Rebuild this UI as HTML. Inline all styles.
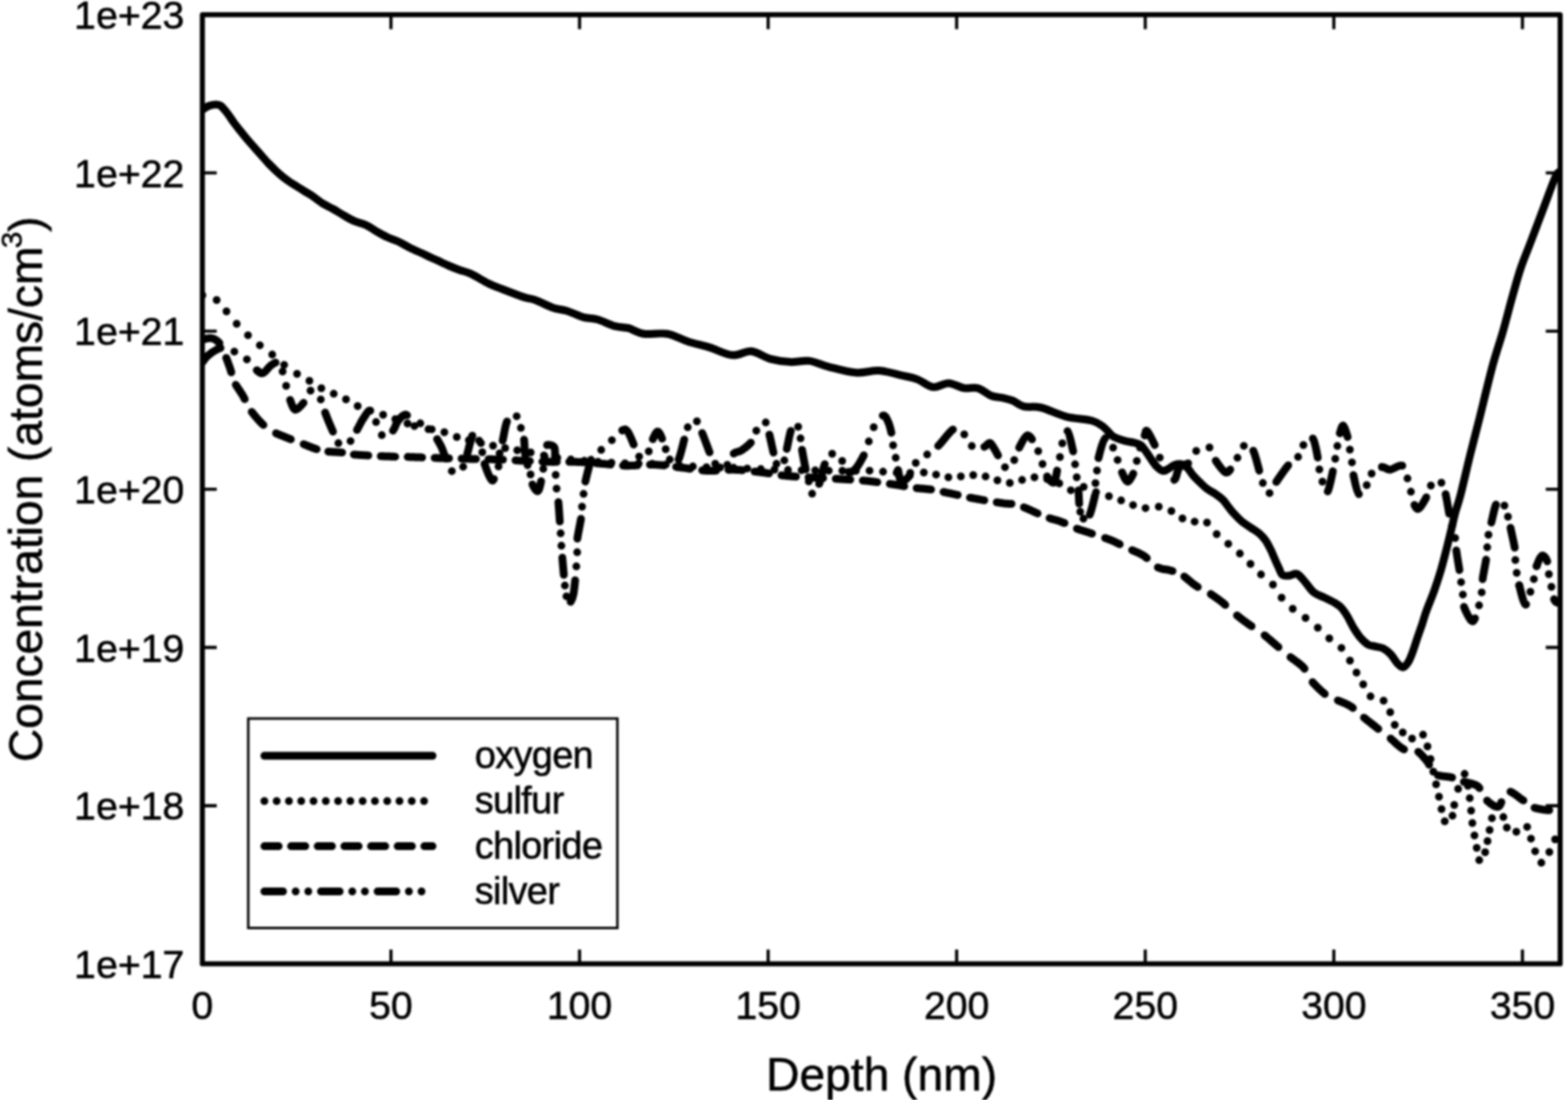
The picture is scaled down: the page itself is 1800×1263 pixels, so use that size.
<!DOCTYPE html><html><head><meta charset="utf-8"><style>html,body{margin:0;padding:0;background:#fff;width:1800px;height:1263px;overflow:hidden}svg{display:block}text{font-family:"Liberation Sans",sans-serif;fill:#000;stroke:#000;stroke-width:0.6px}</style></head><body>
<svg style="filter:blur(0.8px)" width="1800" height="1263" viewBox="0 0 1800 1263">
<rect width="1800" height="1263" fill="#fff"/>
<path d="M232.3,1106.7 v-16.5 M232.3,16.9 v16.5 M448.8,1106.7 v-16.5 M448.8,16.9 v16.5 M665.3,1106.7 v-16.5 M665.3,16.9 v16.5 M881.8,1106.7 v-16.5 M881.8,16.9 v16.5 M1098.2,1106.7 v-16.5 M1098.2,16.9 v16.5 M1314.7,1106.7 v-16.5 M1314.7,16.9 v16.5 M1531.2,1106.7 v-16.5 M1531.2,16.9 v16.5 M1747.7,1106.7 v-16.5 M1747.7,16.9 v16.5 M232.3,1106.7 h16.5 M1791.0,1106.7 h-16.5 M232.3,925.1 h16.5 M1791.0,925.1 h-16.5 M232.3,743.4 h16.5 M1791.0,743.4 h-16.5 M232.3,561.8 h16.5 M1791.0,561.8 h-16.5 M232.3,380.2 h16.5 M1791.0,380.2 h-16.5 M232.3,198.5 h16.5 M1791.0,198.5 h-16.5 M232.3,16.9 h16.5 M1791.0,16.9 h-16.5" stroke="#000" stroke-width="3.6" fill="none"/>
<defs><clipPath id="c"><rect x="232.3" y="16.9" width="1558.7" height="1089.8"/></clipPath></defs>
<g clip-path="url(#c)" fill="none" stroke="#000" stroke-linecap="round" stroke-linejoin="round">
<path d="M232.3,126.0 C233.6,125.2 237.3,122.5 240.0,121.5 C242.7,120.5 246.0,120.0 248.3,120.0 C250.6,120.0 251.5,120.0 253.6,121.6 C255.7,123.2 258.4,126.7 260.8,129.8 C263.2,132.9 265.6,136.8 268.0,140.1 C270.4,143.4 272.6,146.1 275.2,149.4 C277.8,152.7 280.8,156.4 283.5,159.7 C286.2,163.0 289.0,165.9 291.7,169.0 C294.4,172.1 297.1,175.1 299.9,178.2 C302.6,181.3 305.4,184.6 308.2,187.5 C310.9,190.4 313.7,193.1 316.4,195.7 C319.1,198.3 321.9,200.7 324.6,202.9 C327.4,205.1 330.1,207.2 332.9,209.1 C335.6,211.0 338.4,212.5 341.1,214.2 C343.8,215.9 346.6,217.7 349.3,219.4 C352.0,221.1 354.1,221.9 357.5,224.2 C360.9,226.5 365.8,230.7 370.0,233.3 C374.2,235.9 378.3,237.6 382.5,240.0 C386.7,242.4 390.8,245.1 395.0,247.5 C399.2,249.9 403.3,252.4 407.5,254.2 C411.7,256.0 415.8,256.4 420.0,258.3 C424.2,260.2 428.3,263.4 432.5,265.8 C436.7,268.2 440.8,270.6 445.0,272.5 C449.2,274.4 453.3,275.6 457.5,277.5 C461.7,279.4 465.8,282.1 470.0,284.2 C474.2,286.3 478.3,288.1 482.5,290.0 C486.7,291.9 491.7,294.3 495.0,295.8 C498.3,297.3 499.2,297.7 502.5,299.2 C505.8,300.7 510.8,303.2 515.0,305.0 C519.2,306.8 523.3,308.5 527.5,310.0 C531.7,311.5 534.4,311.6 540.0,314.2 C545.6,316.8 555.4,322.8 561.1,325.6 C566.8,328.4 567.7,328.5 574.4,331.1 C581.1,333.7 594.4,338.9 601.1,341.1 C607.8,343.3 608.9,342.4 614.4,344.4 C619.9,346.4 628.5,351.2 634.4,353.3 C640.3,355.4 644.1,354.9 650.0,356.7 C655.9,358.5 664.1,362.7 670.0,364.4 C675.9,366.1 679.7,365.0 685.6,366.7 C691.5,368.4 699.7,372.7 705.6,374.4 C711.5,376.1 715.6,375.2 721.1,376.7 C726.6,378.2 731.5,382.2 738.9,383.3 C746.3,384.4 757.1,381.8 765.6,383.3 C774.1,384.8 781.9,389.6 790.0,392.2 C798.1,394.8 805.9,396.3 814.4,398.9 C822.9,401.5 833.1,407.1 841.1,407.8 C849.1,408.5 855.0,402.6 862.2,403.3 C869.4,404.0 877.0,410.1 884.4,412.2 C891.8,414.2 899.3,415.2 906.7,415.6 C914.1,416.0 921.5,413.5 928.9,414.4 C936.3,415.3 942.2,418.9 951.1,421.1 C960.0,423.3 972.6,427.1 982.2,427.8 C991.8,428.6 1000.0,425.1 1008.9,425.6 C1017.8,426.2 1028.2,429.4 1035.6,431.1 C1043.0,432.8 1047.4,433.4 1053.3,435.6 C1059.2,437.8 1065.2,443.7 1071.1,444.4 C1077.0,445.1 1083.0,439.8 1088.9,440.0 C1094.8,440.2 1101.2,444.7 1106.7,445.6 C1112.2,446.5 1117.1,444.2 1122.2,445.6 C1127.3,447.0 1132.9,452.4 1137.5,454.2 C1142.1,456.0 1145.8,455.7 1150.0,456.7 C1154.2,457.7 1158.3,458.3 1162.5,460.0 C1166.7,461.7 1169.6,465.4 1175.0,466.7 C1180.4,468.0 1186.9,466.1 1195.0,468.0 C1203.1,469.9 1214.1,475.8 1223.8,478.3 C1233.5,480.8 1246.3,481.1 1253.4,483.0 C1260.5,484.9 1262.7,487.2 1266.5,490.0 C1270.3,492.8 1273.5,497.6 1276.0,499.7 C1278.5,501.8 1278.7,501.7 1281.4,502.8 C1284.1,503.9 1288.5,505.4 1292.1,506.4 C1295.7,507.3 1299.8,507.7 1302.8,508.5 C1305.8,509.3 1307.8,509.6 1309.9,511.3 C1312.0,513.0 1313.7,515.9 1315.6,518.5 C1317.5,521.1 1319.3,524.1 1321.3,527.0 C1323.3,529.9 1325.5,533.3 1327.7,535.6 C1330.0,537.9 1332.6,540.1 1334.8,540.6 C1337.0,541.1 1338.8,539.6 1341.0,538.5 C1343.2,537.4 1345.5,534.9 1348.0,534.0 C1350.5,533.1 1353.5,532.5 1356.0,533.0 C1358.5,533.5 1360.7,534.8 1363.0,537.0 C1365.3,539.2 1367.5,543.4 1370.0,546.3 C1372.5,549.2 1375.3,551.8 1377.9,554.3 C1380.5,556.8 1382.8,559.2 1385.8,561.4 C1388.8,563.6 1393.1,565.6 1396.1,567.7 C1399.1,569.8 1401.8,571.8 1404.0,574.0 C1406.2,576.2 1407.6,578.7 1409.6,581.2 C1411.6,583.7 1413.3,586.2 1415.9,589.1 C1418.5,592.0 1422.1,595.8 1425.4,598.6 C1428.7,601.4 1432.3,603.3 1435.7,605.7 C1439.1,608.1 1443.1,610.3 1446.0,612.8 C1448.9,615.3 1451.0,617.8 1453.1,620.8 C1455.2,623.8 1457.1,627.9 1458.7,631.1 C1460.3,634.3 1461.0,636.5 1462.6,640.0 C1464.1,643.5 1466.4,648.7 1468.0,652.0 C1469.6,655.3 1470.0,658.5 1472.0,660.0 C1474.0,661.5 1477.2,661.2 1480.0,661.0 C1482.8,660.8 1486.0,657.8 1489.0,659.0 C1492.0,660.2 1494.8,664.5 1498.0,668.0 C1501.2,671.5 1504.3,677.0 1508.0,680.0 C1511.7,683.0 1516.0,684.0 1520.0,686.0 C1524.0,688.0 1528.7,690.0 1532.0,692.0 C1535.3,694.0 1537.5,695.3 1540.0,698.0 C1542.5,700.7 1544.7,704.2 1547.0,708.0 C1549.3,711.8 1551.4,716.9 1553.9,720.9 C1556.4,724.9 1559.0,729.1 1561.8,732.3 C1564.6,735.5 1567.6,738.4 1570.5,740.1 C1573.4,741.8 1576.3,741.6 1579.2,742.3 C1582.1,743.0 1585.0,743.0 1587.9,744.5 C1590.8,746.0 1594.0,748.6 1596.6,751.4 C1599.2,754.1 1601.3,758.5 1603.6,761.0 C1605.9,763.5 1608.4,766.4 1610.6,766.2 C1612.8,766.1 1614.8,763.1 1616.7,760.1 C1618.6,757.1 1620.2,752.6 1621.9,748.0 C1623.6,743.4 1625.4,737.4 1627.1,732.3 C1628.8,727.2 1630.5,722.7 1632.3,717.5 C1634.0,712.3 1635.2,707.6 1637.6,701.0 C1640.0,694.4 1643.8,685.7 1646.5,678.0 C1649.2,670.3 1651.7,662.8 1654.0,655.0 C1656.3,647.2 1658.5,638.4 1660.4,631.0 C1662.3,623.6 1663.7,617.6 1665.4,610.6 C1667.1,603.6 1668.6,596.2 1670.5,589.0 C1672.4,581.8 1673.9,578.9 1676.8,567.6 C1679.7,556.3 1684.4,535.4 1688.0,521.0 C1691.6,506.6 1694.0,497.8 1698.2,481.0 C1702.4,464.2 1708.9,436.8 1713.4,420.0 C1718.0,403.2 1721.7,393.3 1725.5,380.0 C1729.3,366.7 1732.9,352.0 1736.3,340.0 C1739.7,328.0 1742.4,317.8 1745.7,308.0 C1749.0,298.2 1752.5,290.2 1756.0,281.0 C1759.5,271.8 1763.1,262.3 1766.6,253.0 C1770.1,243.7 1773.7,234.0 1777.0,225.3 C1780.3,216.6 1784.1,205.7 1786.6,201.0 C1789.1,196.3 1791.1,197.7 1792.0,197.0" stroke-width="9.0"/>
<path d="M232.3,339.0h0M248.7,344.5h0M260.0,357.5h0M271.7,371.7h0M284.7,384.9h0M298.3,396.4h0M312.5,407.1h0M326.2,418.9h0M341.0,429.3h0M355.2,437.2h0M368.9,445.7h0M383.1,452.1h0M397.2,458.5h0M410.6,466.2h0M425.1,471.5h0M439.8,476.3h0M453.8,481.3h0M467.8,486.2h0M482.5,486.1h0M495.6,492.9h0M510.1,496.2h0M524.4,501.8h0M538.2,505.4h0M552.1,508.7h0M566.0,511.8h0M579.9,514.5h0M593.8,517.0h0M609.2,519.5h0M624.4,522.9h0M639.8,525.6h0M655.3,527.6h0M670.8,529.1h0M686.4,530.3h0M701.9,531.2h0M717.5,531.9h0M733.1,532.2h0M748.7,532.5h0M764.3,533.4h0M779.9,534.5h0M795.4,535.6h0M811.0,536.5h0M826.6,536.8h0M842.2,537.1h0M857.8,537.9h0M873.4,538.6h0M889.0,539.2h0M904.6,539.6h0M920.2,539.9h0M935.8,540.1h0M951.4,540.4h0M967.0,540.5h0M982.6,540.5h0M998.2,540.4h0M1013.7,541.6h0M1029.3,542.7h0M1044.9,542.9h0M1060.5,542.5h0M1074.6,544.9h0M1088.7,548.0h0M1103.0,547.0h0M1117.2,545.5h0M1131.4,547.1h0M1145.0,551.5h0M1159.2,554.5h0M1173.3,551.1h0M1187.5,548.0h0M1202.1,550.0h0M1216.0,555.0h0M1229.3,562.9h0M1244.0,559.0h0M1258.2,565.1h0M1273.0,569.8h0M1287.0,574.6h0M1300.7,579.9h0M1315.0,583.4h0M1330.2,581.7h0M1344.7,586.7h0M1357.4,595.3h0M1371.4,598.9h0M1385.6,600.0h0M1396.7,613.2h0M1410.0,624.4h0M1423.3,635.6h0M1435.5,647.5h0M1447.6,659.6h0M1461.3,671.3h0M1471.2,686.3h0M1484.0,699.0h0M1498.7,709.5h0M1512.8,720.7h0M1526.0,733.0h0M1539.9,743.9h0M1549.7,758.5h0M1557.2,772.2h0M1564.9,785.8h0M1573.3,799.6h0M1588.3,804.5h0M1595.9,817.8h0M1601.1,832.2h0M1610.3,841.0h0M1621.0,848.0h0M1633.6,843.6h0M1638.7,857.0h0M1642.2,871.5h0M1645.4,886.0h0M1648.6,900.5h0M1651.9,914.7h0M1654.8,929.0h0M1658.5,943.0h0M1667.4,936.6h0M1669.4,924.3h0M1673.9,905.7h0M1681.3,888.6h0M1685.1,902.2h0M1687.2,916.4h0M1688.8,930.7h0M1690.2,945.0h0M1692.6,959.3h0M1695.2,973.5h0M1698.1,987.6h0M1704.9,978.5h0M1707.6,965.8h0M1710.0,953.0h0M1712.7,939.4h0M1725.8,938.1h0M1729.8,950.2h0M1740.7,955.0h0M1753.1,949.4h0M1757.5,962.9h0M1762.3,977.4h0M1769.4,990.6h0M1778.6,978.2h0M1785.2,963.8h0" stroke-width="9.0"/>
<path d="M232.3,390.0 232.5,390.0 232.7,389.9 232.9,389.9 233.2,389.8 233.5,389.7 233.8,389.7 234.1,389.6 234.4,389.5 234.8,389.4 235.1,389.3 235.5,389.2 235.9,389.1 236.3,389.0 236.7,388.9 237.1,388.8 237.5,388.7 237.9,388.6 238.3,388.5 238.7,388.5 239.2,388.4 239.6,388.3 240.0,388.3 240.4,388.2 240.8,388.2 241.2,388.2 241.6,388.2 242.0,388.2 242.3,388.2 242.7,388.2 243.0,388.3 243.3,388.4 243.7,388.5 244.0,388.6 244.3,388.7 244.6,388.8 245.0,388.9 245.3,389.0 245.6,389.2 246.0,389.3 246.3,389.5 246.6,389.7 246.9,389.8 247.2,390.0 247.5,390.2 247.9,390.4 248.2,390.6 248.5,390.8 248.8,391.1 249.1,391.3 249.4,391.5 249.6,391.7 249.9,392.0 250.2,392.2 250.5,392.5 250.8,392.7 251.0,393.0 251.3,393.2 251.5,393.5 251.8,393.7 251.9,393.9M259.7,410.9 259.8,411.0 260.1,411.8 260.3,412.5 260.6,413.3 260.9,414.0 261.2,414.8 261.5,415.5 261.7,416.3 262.0,417.1 262.3,417.8 262.5,418.5 262.8,419.2 263.1,420.0 263.3,420.7 263.5,421.3 263.8,422.0 264.0,422.6 264.2,423.2 264.4,423.8 264.6,424.4 264.8,424.9 264.9,425.5 265.1,426.0 265.2,426.4 265.3,426.9 265.4,427.3 265.5,427.6M270.7,441.8 270.9,442.1 271.3,442.8 271.7,443.4 272.1,444.0 272.5,444.6 273.0,445.3 273.4,445.9 273.8,446.6 274.2,447.2 274.7,447.8 275.1,448.5 275.5,449.1 275.9,449.7 276.3,450.4 276.7,451.0 277.1,451.6 277.5,452.2 277.9,452.8 278.2,453.3 278.6,453.9 278.9,454.5 279.2,455.0 279.5,455.5 279.8,456.0 280.0,456.5 280.3,457.0 280.5,457.5 280.7,458.0 280.9,458.3M289.0,472.9 289.3,473.3 289.8,473.9 290.3,474.5 290.7,475.1 291.2,475.7 291.7,476.3 292.2,476.9 292.7,477.5 293.2,478.1 293.7,478.7 294.2,479.3 294.7,479.9 295.2,480.4 295.7,481.0 296.2,481.6 296.7,482.1 297.2,482.7 297.7,483.2 298.2,483.7 298.6,484.2 299.1,484.7 299.6,485.2 300.0,485.6 300.4,486.0 300.9,486.5 301.3,486.9 301.7,487.3 302.1,487.6 302.4,487.9M316.9,497.5 317.4,497.7 318.1,498.0 318.8,498.3 319.5,498.6 320.2,498.9 320.9,499.2 321.6,499.5 322.3,499.8 323.1,500.1 323.8,500.4 324.5,500.6 325.2,500.9 325.9,501.2 326.6,501.5 327.2,501.7 327.9,502.0 328.5,502.2 329.2,502.5 329.8,502.7 330.4,502.9 330.9,503.2 331.5,503.4 332.0,503.6 332.5,503.8 333.0,504.0 333.4,504.2 333.8,504.3 333.9,504.4M348.6,510.0 349.2,510.3 349.9,510.5 350.6,510.8 351.3,511.1 352.0,511.4 352.7,511.7 353.5,512.0 354.2,512.3 354.9,512.5 355.6,512.8 356.3,513.1 357.0,513.4 357.7,513.6 358.3,513.9 359.0,514.1 359.6,514.4 360.3,514.6 360.9,514.8 361.4,515.0 362.0,515.2 362.5,515.4 363.0,515.6 363.5,515.7M376.9,518.5 377.1,518.6 377.7,518.6 378.4,518.7 379.1,518.7 379.8,518.7 380.5,518.8 381.2,518.8 381.9,518.9 382.6,518.9 383.3,518.9 384.0,519.0 384.7,519.0 385.4,519.1 386.1,519.1 386.8,519.1 387.5,519.2 388.2,519.2 388.9,519.3 389.5,519.3 390.1,519.3 390.8,519.4 391.4,519.4 391.9,519.5 392.5,519.5 392.7,519.6M406.2,521.9 406.3,521.9 406.8,522.0 407.4,522.0 407.9,522.1 408.5,522.1 409.1,522.1 409.6,522.2 410.2,522.2 410.8,522.3 411.4,522.3 412.1,522.4 412.7,522.4 413.3,522.4 414.0,522.5 414.6,522.5 415.3,522.6 416.0,522.6 416.7,522.6 417.4,522.7 418.1,522.7 418.9,522.7 419.6,522.8 420.4,522.8 421.2,522.9 422.0,522.9 422.8,523.0M437.1,523.7 437.9,523.7 439.0,523.8 440.1,523.8 441.3,523.9 442.4,523.9 443.5,524.0 444.6,524.0 445.6,524.1 446.7,524.1 447.7,524.1 448.7,524.2 449.7,524.2 450.7,524.3 451.6,524.3 452.5,524.3 453.4,524.4 453.7,524.4M468.0,524.6 468.6,524.6 469.3,524.6 470.1,524.7 470.9,524.7 471.7,524.7 472.6,524.7 473.5,524.8 474.5,524.8 475.5,524.8 476.5,524.9 477.6,524.9 478.7,524.9 479.8,525.0 481.0,525.0 482.1,525.1 483.3,525.1 484.5,525.2 484.6,525.2M498.9,525.7 499.4,525.8 500.7,525.8 501.8,525.8 503.0,525.9 504.2,525.9 505.3,526.0 506.4,526.0 507.5,526.0 508.6,526.1 509.6,526.1 510.7,526.1 511.7,526.2 512.7,526.2 513.8,526.2 514.8,526.3 515.5,526.3M529.9,526.6 530.8,526.7 531.8,526.7 532.8,526.7 533.8,526.7 534.9,526.8 535.9,526.8 537.0,526.8 538.1,526.8 539.2,526.8 540.2,526.9 541.3,526.9 542.4,526.9 543.6,526.9 544.7,527.0 545.8,527.0 546.4,527.0M560.8,527.2 561.7,527.3 562.8,527.3 563.9,527.3 565.0,527.3 566.0,527.4 567.1,527.4 568.2,527.4 569.3,527.5 570.3,527.5 571.3,527.5 572.4,527.6 573.4,527.6 574.4,527.7 575.4,527.7 576.4,527.8 577.3,527.8 577.4,527.8M591.7,528.6 592.6,528.6 593.6,528.7 594.5,528.8 595.5,528.8 596.4,528.9 597.4,528.9 598.4,529.0 599.4,529.0 600.4,529.0 601.4,529.1 602.4,529.1 603.4,529.2 604.4,529.2 605.4,529.3 606.4,529.3 607.5,529.4 608.3,529.4M622.6,530.1 622.8,530.1 623.9,530.1 624.9,530.2 625.9,530.2 626.9,530.2 628.0,530.3 629.0,530.3 630.0,530.3 631.0,530.3 632.0,530.3 633.1,530.3 634.1,530.3 635.1,530.4 636.1,530.3 637.1,530.3 638.2,530.3 639.2,530.3M653.5,530.2 654.5,530.2 655.5,530.2 656.5,530.2 657.5,530.2 658.6,530.2 659.6,530.3 660.6,530.3 661.6,530.3 662.6,530.4 663.7,530.4 664.7,530.5 665.7,530.5 666.7,530.6 667.8,530.6 668.8,530.7 669.8,530.8 670.1,530.8M684.4,531.9 685.1,531.9 686.1,532.0 687.1,532.1 688.1,532.2 689.1,532.2 690.0,532.3 691.0,532.4 691.9,532.5 692.9,532.6 693.8,532.6 694.7,532.7 695.6,532.8 696.5,532.9 697.4,533.0 698.3,533.1 699.2,533.2 700.0,533.3 700.9,533.4 700.9,533.4M715.2,534.6 716.0,534.6 717.0,534.7 718.0,534.7 719.0,534.7 720.0,534.7 721.0,534.7 722.1,534.7 723.1,534.6 724.2,534.6 725.2,534.6 726.3,534.5 727.4,534.4 728.5,534.4 729.6,534.3 730.7,534.2 731.8,534.2 731.8,534.2M746.1,533.5 746.3,533.5 747.4,533.4 748.5,533.5 749.6,533.5 750.7,533.5 751.8,533.5 752.9,533.6 754.0,533.7 755.1,533.7 756.2,533.8 757.3,533.9 758.4,534.0 759.5,534.1 760.6,534.2 761.7,534.3 762.3,534.4M776.2,536.1 777.0,536.2 778.1,536.4 779.1,536.5 780.2,536.6 781.2,536.8 782.3,536.9 783.3,537.0 784.3,537.1 785.3,537.2 786.4,537.4 787.4,537.5 788.3,537.6 789.3,537.8 790.3,537.9 791.3,538.1 792.2,538.2M806.1,540.0 806.6,540.1 807.6,540.2 808.6,540.3 809.5,540.3 810.5,540.4 811.5,540.5 812.5,540.5 813.5,540.5 814.5,540.5 815.5,540.6 816.5,540.5 817.5,540.5 818.5,540.5 819.5,540.5 820.5,540.4 821.5,540.4 822.2,540.3M836.2,539.4 836.8,539.4 837.8,539.3 838.8,539.3 839.9,539.3 840.9,539.3 841.9,539.3 842.9,539.3 843.9,539.3 844.9,539.4 845.9,539.4 846.9,539.5 847.9,539.5 848.9,539.6 849.9,539.7 850.9,539.7 851.9,539.8 852.3,539.9M866.2,541.4 867.0,541.5 868.1,541.6 869.1,541.7 870.1,541.8 871.2,542.0 872.2,542.1 873.3,542.2 874.4,542.3 875.4,542.5 876.4,542.6 877.4,542.7 878.4,542.9 879.4,543.0 880.4,543.2 881.4,543.3 882.3,543.5 882.8,543.5M897.1,545.7 897.2,545.7 898.4,545.9 899.7,546.0 901.0,546.1 902.4,546.3 903.8,546.4 905.2,546.6 906.7,546.7 908.3,546.8 909.9,547.0 911.6,547.1 913.4,547.2 913.8,547.2M928.2,548.1 929.3,548.2 931.4,548.3 933.6,548.4 935.7,548.5 937.8,548.6 939.9,548.7 942.1,548.8 944.2,548.9 944.9,549.0M959.4,549.7 959.6,549.7 961.3,549.8 962.9,549.9 964.4,550.0 965.9,550.1 967.2,550.2 968.6,550.3 969.9,550.3 971.1,550.4 972.3,550.5 973.5,550.5 974.6,550.6 975.6,550.7 976.1,550.7M990.5,551.7 990.6,551.7 991.5,551.8 992.5,551.9 993.5,552.0 994.5,552.1 995.6,552.2 996.7,552.3 997.8,552.4 998.9,552.6 1000.0,552.7 1001.2,552.8 1002.4,553.0 1003.5,553.1 1004.7,553.3 1005.9,553.4 1007.1,553.6 1007.1,553.6M1021.5,555.6 1022.1,555.7 1023.1,555.8 1024.1,556.0 1025.2,556.1 1026.1,556.3 1027.1,556.4 1028.0,556.6 1028.9,556.7 1029.8,556.8 1030.6,557.0 1031.4,557.1 1032.2,557.2 1032.9,557.3 1033.6,557.5 1034.3,557.6 1035.0,557.7 1035.6,557.8 1036.3,557.9 1036.9,558.1 1037.5,558.2 1038.0,558.3M1052.3,560.5 1052.6,560.5 1053.3,560.6 1054.0,560.6 1054.6,560.7 1055.3,560.8 1056.0,560.8 1056.7,560.9 1057.3,560.9 1058.0,561.0 1058.7,561.0 1059.4,561.1 1060.1,561.1 1060.7,561.2 1061.4,561.3 1062.1,561.3 1062.7,561.4 1063.4,561.5 1064.1,561.5 1064.7,561.6 1065.4,561.7 1066.0,561.7 1066.7,561.8 1067.4,561.9 1068.0,562.0 1068.6,562.1 1068.9,562.1M1083.1,564.8 1083.6,565.0 1084.3,565.1 1085.1,565.3 1085.9,565.4 1086.7,565.6 1087.5,565.8 1088.4,566.0 1089.3,566.1 1090.2,566.3 1091.1,566.5 1092.1,566.7 1093.1,567.0 1094.0,567.2 1095.0,567.4 1096.1,567.6 1097.1,567.8 1098.1,568.1 1099.2,568.3 1099.4,568.3M1113.5,571.4 1114.5,571.6 1115.6,571.8 1116.7,572.0 1117.8,572.2 1118.9,572.4 1120.0,572.6 1121.1,572.8 1122.2,573.0 1123.4,573.2 1124.6,573.4 1125.7,573.6 1126.9,573.9 1128.1,574.1 1129.3,574.3 1129.9,574.4M1144.2,576.7 1144.3,576.7 1145.4,576.9 1146.4,577.1 1147.4,577.2 1148.4,577.4 1149.3,577.5 1150.2,577.7 1151.1,577.8 1151.9,577.9 1152.7,578.0 1153.4,578.1 1154.1,578.2 1154.8,578.2 1155.4,578.3 1156.0,578.3 1156.6,578.3 1157.2,578.4 1157.7,578.4 1158.2,578.4 1158.7,578.4 1159.2,578.4 1159.7,578.4 1160.1,578.4 1160.6,578.4 1161.1,578.5 1161.2,578.5M1175.4,582.5 1175.5,582.5 1176.6,583.0 1177.7,583.4 1178.8,583.9 1179.9,584.4 1181.0,584.9 1182.2,585.4 1183.3,585.9 1184.5,586.4 1185.6,587.0 1186.7,587.5 1187.9,588.0 1189.0,588.5 1190.1,589.0 1191.1,589.5M1204.9,595.0 1205.1,595.1 1205.7,595.3 1206.3,595.5 1206.9,595.7 1207.5,595.8 1208.1,596.0 1208.6,596.1 1209.2,596.3 1209.7,596.4 1210.3,596.6 1210.8,596.7 1211.3,596.9 1211.8,597.0 1212.4,597.2 1212.9,597.3 1213.4,597.4 1213.9,597.6 1214.5,597.8 1215.0,597.9 1215.5,598.1 1216.1,598.3 1216.6,598.5 1217.2,598.7 1217.8,598.9 1218.4,599.1 1219.0,599.4 1219.6,599.6 1220.2,599.9 1220.8,600.1 1221.4,600.4 1222.0,600.6M1236.3,607.0 1236.6,607.1 1237.1,607.3 1237.5,607.4 1238.0,607.6 1238.4,607.8 1238.9,607.9 1239.3,608.1 1239.7,608.2 1240.1,608.3 1240.5,608.5 1240.9,608.6 1241.3,608.7 1241.7,608.8 1242.1,609.0 1242.5,609.1 1242.9,609.2 1243.3,609.3 1243.7,609.5 1244.1,609.6 1244.6,609.7 1245.0,609.9 1245.4,610.0 1245.9,610.1 1246.3,610.3 1246.8,610.4 1247.3,610.6 1247.8,610.7 1248.4,610.9 1248.9,611.1 1249.5,611.3 1250.1,611.5 1250.7,611.7 1251.3,611.9 1251.9,612.1 1252.6,612.3 1253.3,612.6 1253.6,612.7M1268.6,617.7 1268.9,617.8 1269.4,618.0 1269.9,618.2 1270.4,618.3 1270.8,618.5 1271.2,618.6 1271.7,618.8 1272.1,618.9 1272.4,619.1 1272.8,619.2 1273.2,619.4 1273.5,619.5 1273.9,619.6 1274.2,619.7 1274.5,619.9 1274.9,620.0 1275.2,620.1 1275.5,620.3 1275.8,620.4 1276.1,620.5 1276.5,620.6 1276.8,620.8 1277.1,620.9 1277.4,621.1 1277.8,621.2 1278.1,621.4 1278.5,621.5 1278.8,621.7 1279.2,621.8 1279.6,622.0 1280.0,622.2 1280.4,622.4 1280.8,622.6 1281.2,622.8 1281.6,623.0 1282.0,623.2 1282.4,623.4 1282.8,623.6 1283.2,623.8 1283.6,624.0 1284.0,624.2 1284.5,624.4 1284.9,624.6 1285.3,624.8 1285.4,624.9M1299.6,631.7 1300.3,632.0 1301.0,632.3 1301.7,632.6 1302.4,632.9 1303.1,633.2 1303.8,633.5 1304.5,633.8 1305.2,634.1 1305.9,634.4 1306.6,634.7 1307.3,635.0 1307.9,635.3 1308.6,635.7 1309.2,636.0 1309.9,636.3 1310.5,636.7 1311.1,637.0 1311.7,637.3 1312.3,637.7 1312.8,638.0 1313.3,638.3 1313.9,638.7 1314.4,639.1 1314.9,639.5 1315.4,639.9 1315.8,640.3 1316.3,640.7 1316.5,640.8M1329.2,651.5 1329.4,651.6 1329.6,651.7 1329.9,651.8 1330.2,651.9 1330.5,652.0 1330.8,652.1 1331.1,652.2 1331.3,652.3 1331.6,652.4 1331.9,652.5 1332.1,652.6 1332.4,652.6 1332.7,652.7 1332.9,652.8 1333.2,652.9 1333.5,653.0 1333.8,653.0 1334.0,653.1 1334.3,653.2 1334.6,653.3 1334.8,653.4 1335.1,653.4 1335.3,653.5 1335.6,653.5 1335.8,653.6 1336.0,653.6 1336.2,653.6 1336.5,653.7 1336.7,653.7 1336.9,653.7 1337.1,653.7 1337.3,653.7 1337.6,653.8 1337.8,653.8 1338.0,653.8 1338.2,653.8 1338.5,653.8 1338.7,653.9 1338.9,653.9 1339.2,653.9 1339.4,654.0 1339.7,654.0 1340.0,654.0 1340.3,654.1 1340.6,654.2 1340.9,654.2 1341.2,654.3 1341.5,654.4 1341.9,654.5 1342.3,654.6 1342.6,654.7 1343.0,654.8 1343.4,654.9 1343.8,655.0 1344.3,655.1 1344.7,655.3 1345.1,655.4 1345.6,655.5 1346.0,655.6M1359.5,661.9 1359.6,662.0 1360.2,662.5 1360.7,662.9 1361.3,663.4 1361.8,663.8 1362.4,664.3 1363.0,664.7 1363.5,665.2 1364.1,665.7 1364.7,666.2 1365.2,666.6 1365.8,667.1 1366.4,667.6 1366.9,668.1 1367.5,668.5 1368.0,669.0 1368.6,669.4 1369.1,669.9 1369.7,670.3 1370.2,670.7 1370.7,671.1 1371.3,671.5 1371.8,671.9 1372.3,672.2 1372.8,672.5 1373.3,672.8 1373.8,673.1 1374.3,673.4 1374.7,673.7 1375.0,673.9M1389.9,682.1 1390.0,682.2 1390.6,682.5 1391.1,682.9 1391.7,683.3 1392.2,683.6 1392.8,684.0 1393.4,684.4 1393.9,684.8 1394.5,685.2 1395.1,685.6 1395.6,686.0 1396.2,686.4 1396.8,686.8 1397.3,687.2 1397.9,687.6 1398.4,688.0 1399.0,688.4 1399.5,688.8 1400.1,689.2 1400.6,689.6 1401.1,690.0 1401.7,690.4 1402.2,690.8 1402.7,691.2 1403.2,691.6 1403.7,692.0 1404.2,692.4 1404.7,692.8 1405.1,693.2 1405.6,693.7 1406.1,694.1 1406.5,694.5 1406.6,694.6M1420.0,706.6 1420.4,706.9 1420.9,707.3 1421.5,707.8 1422.0,708.2 1422.6,708.6 1423.1,709.1 1423.7,709.5 1424.3,709.9 1424.8,710.4 1425.4,710.8 1425.9,711.2 1426.5,711.6 1427.1,712.1 1427.6,712.5 1428.2,712.9 1428.8,713.3 1429.3,713.7 1429.9,714.1 1430.4,714.5 1431.0,714.9 1431.5,715.3 1432.0,715.7 1432.6,716.1 1433.1,716.5 1433.6,716.9 1434.1,717.2 1434.7,717.6 1435.2,718.0 1435.7,718.3 1436.2,718.6 1436.7,719.0 1436.8,719.0M1451.7,729.4 1452.1,729.7 1452.7,730.2 1453.3,730.7 1453.8,731.2 1454.4,731.6 1455.0,732.1 1455.5,732.6 1456.1,733.1 1456.7,733.6 1457.2,734.1 1457.8,734.6 1458.4,735.0 1458.9,735.5 1459.5,736.0 1460.1,736.5 1460.6,737.0 1461.1,737.5 1461.7,737.9 1462.2,738.4 1462.8,738.8 1463.3,739.3 1463.8,739.7 1464.3,740.2 1464.8,740.6 1465.3,741.0 1465.8,741.4 1466.2,741.8 1466.7,742.2 1467.1,742.6 1467.6,743.0M1481.4,754.6 1481.5,754.6 1482.1,755.1 1482.7,755.5 1483.4,756.0 1484.0,756.5 1484.7,756.9 1485.3,757.4 1486.0,757.9 1486.7,758.4 1487.3,758.8 1488.0,759.3 1488.6,759.8 1489.3,760.3 1489.9,760.8 1490.6,761.2 1491.2,761.7 1491.8,762.2 1492.4,762.7 1493.0,763.2 1493.5,763.6 1494.1,764.1 1494.6,764.6 1495.1,765.1 1495.6,765.5 1496.0,766.0 1496.4,766.5 1496.8,766.9 1497.2,767.4 1497.5,767.9 1497.5,767.9M1506.8,783.3 1507.3,783.8 1507.8,784.4 1508.3,785.0 1508.9,785.5 1509.5,786.1 1510.0,786.7 1510.6,787.3 1511.2,787.9 1511.8,788.5 1512.3,789.0 1512.9,789.6 1513.5,790.2 1514.1,790.7 1514.7,791.3 1515.2,791.8 1515.8,792.4 1516.4,792.9 1516.9,793.4 1517.5,793.9 1518.0,794.3 1518.5,794.8 1519.0,795.2 1519.5,795.6 1520.0,796.0 1520.5,796.4 1520.8,796.7M1535.8,804.2 1536.4,804.5 1537.0,804.7 1537.6,805.0 1538.2,805.2 1538.8,805.5 1539.5,805.7 1540.1,806.0 1540.7,806.2 1541.4,806.5 1542.0,806.8 1542.7,807.0 1543.3,807.3 1543.9,807.6 1544.5,807.8 1545.2,808.1 1545.8,808.4 1546.4,808.7 1547.0,809.0 1547.5,809.3 1548.1,809.6 1548.6,809.9 1549.2,810.2 1549.7,810.5 1550.2,810.8 1550.7,811.1 1551.2,811.4 1551.6,811.8 1552.1,812.1 1552.5,812.4 1552.9,812.7 1553.1,812.9M1565.8,824.0 1566.0,824.1 1566.6,824.6 1567.3,825.1 1567.9,825.7 1568.6,826.2 1569.2,826.7 1569.9,827.3 1570.6,827.8 1571.3,828.3 1572.0,828.9 1572.6,829.4 1573.3,829.9 1574.0,830.5 1574.7,831.0 1575.3,831.5 1576.0,832.0 1576.6,832.5 1577.3,833.0 1577.9,833.5 1578.5,834.0 1579.1,834.5 1579.7,834.9 1580.2,835.4 1580.8,835.8 1581.3,836.2 1581.8,836.6 1582.2,836.9M1596.4,847.9 1597.0,848.5 1597.6,849.0 1598.2,849.6 1598.8,850.1 1599.5,850.7 1600.1,851.3 1600.7,851.9 1601.3,852.5 1602.0,853.0 1602.6,853.6 1603.2,854.2 1603.9,854.8 1604.5,855.3 1605.1,855.8 1605.8,856.4 1606.4,856.9 1607.0,857.4 1607.6,857.8 1608.2,858.3 1608.8,858.7 1609.3,859.0 1609.9,859.4 1610.5,859.7 1611.0,860.0 1611.5,860.2 1611.8,860.4M1628.1,863.2 1628.3,863.3 1628.8,863.8 1629.3,864.2 1629.8,864.7 1630.3,865.1 1630.8,865.6 1631.3,866.1 1631.7,866.6 1632.2,867.1 1632.7,867.6 1633.2,868.1 1633.6,868.7 1634.1,869.2 1634.6,869.7 1635.0,870.3 1635.5,870.8 1635.9,871.3 1636.3,871.8 1636.8,872.4 1637.2,872.9 1637.6,873.4 1638.0,873.9 1638.3,874.3 1638.7,874.8 1639.0,875.3 1639.4,875.7 1639.7,876.2 1640.0,876.7 1640.2,877.2 1640.5,877.7 1640.6,877.9M1650.7,890.2 1650.7,890.2 1651.4,890.4 1652.1,890.5 1652.8,890.7 1653.5,890.8 1654.2,890.9 1654.9,891.0 1655.7,891.1 1656.4,891.2 1657.2,891.3 1657.9,891.4 1658.7,891.5 1659.4,891.6 1660.1,891.6 1660.8,891.7 1661.5,891.8 1662.2,891.9 1662.9,892.0 1663.5,892.0 1664.2,892.1 1664.8,892.2 1665.3,892.4 1665.9,892.5 1666.4,892.6 1666.9,892.7 1667.0,892.8M1680.5,897.7 1680.5,897.7 1681.2,897.8 1681.9,898.0 1682.6,898.1 1683.3,898.3 1684.1,898.4 1684.8,898.6 1685.6,898.8 1686.3,898.9 1687.1,899.1 1687.8,899.3 1688.6,899.5 1689.3,899.7 1690.0,899.9 1690.7,900.1 1691.4,900.3 1692.1,900.5 1692.7,900.8 1693.4,901.0 1694.0,901.3 1694.6,901.6 1695.1,901.9 1695.6,902.2 1696.1,902.5 1696.5,902.8 1697.0,903.2 1697.3,903.6 1697.7,904.0 1698.0,904.4 1698.3,904.8 1698.4,904.9M1707.1,919.3 1707.3,919.5 1707.8,919.9 1708.4,920.4 1709.0,920.9 1709.5,921.4 1710.1,921.9 1710.7,922.3 1711.3,922.8 1711.9,923.2 1712.5,923.6 1713.1,924.0 1713.7,924.4 1714.2,924.8 1714.8,925.1 1715.4,925.4 1716.0,925.6 1716.5,925.9 1717.1,926.1 1717.6,926.2 1718.1,926.3 1718.6,926.3 1719.1,926.4 1719.6,926.3 1720.0,926.2 1720.4,926.0 1720.8,925.8 1721.2,925.4 1721.6,925.0 1721.9,924.5 1722.2,924.0 1722.5,923.4 1722.8,922.7 1723.1,922.0 1723.4,921.3 1723.5,921.0M1734.0,909.0 1734.2,909.1 1734.8,909.4 1735.4,909.7 1736.1,910.1 1736.7,910.5 1737.4,910.9 1738.0,911.3 1738.7,911.7 1739.4,912.2 1740.0,912.7 1740.7,913.2 1741.3,913.6 1742.0,914.1 1742.6,914.6 1743.2,915.1 1743.8,915.5 1744.4,916.0 1745.0,916.4 1745.6,916.9 1746.1,917.3 1746.6,917.6 1747.1,918.0 1747.6,918.3 1748.0,918.6 1748.5,918.9 1748.8,919.1M1761.6,927.5 1762.2,927.7 1762.9,927.9 1763.6,928.1 1764.3,928.2 1765.0,928.4 1765.7,928.5 1766.4,928.7 1767.2,928.8 1767.9,929.0 1768.6,929.1 1769.3,929.2 1770.1,929.4 1770.8,929.5 1771.5,929.6 1772.2,929.7 1772.9,929.8 1773.6,929.9 1774.2,929.9 1774.9,930.0 1775.5,930.1 1776.1,930.1 1776.7,930.2 1777.3,930.2 1777.9,930.2 1778.4,930.2 1778.5,930.2" stroke-width="9.0"/>
<g stroke-width="9.0">
<path d="M232.3,415.9 C233.3,414.7 235.6,411.1 238.3,408.7 C241.0,406.3 245.3,403.1 248.6,401.5 C251.9,399.9 254.4,398.5 257.9,398.9 C261.4,399.3 265.4,401.7 269.7,404.0 C274.0,406.3 279.4,409.3 283.6,412.8 C287.8,416.3 291.9,422.6 295.0,425.2" stroke-dasharray="26.9 17.0 0 17.0 0 17.0"/>
<path d="M295.0,425.2 C298.1,427.8 299.5,429.2 302.1,428.3 C304.7,427.4 307.8,422.1 310.4,420.0 C313.0,417.9 315.4,416.2 317.6,415.9 C319.8,415.6 322.6,415.4 323.8,418.0 C325.0,420.6 323.9,426.7 324.8,431.3 C325.7,435.9 328.0,441.2 329.4,445.8 C330.8,450.4 331.4,455.1 333.0,459.2" stroke-dasharray="26.9 17.0 0 17.0 0 17.0"/>
<path d="M333.0,459.2 C334.6,463.3 336.4,470.2 339.2,470.5 C341.9,470.8 346.5,464.9 349.5,461.2 C352.5,457.5 354.0,448.6 357.2,448.3 C360.4,448.0 365.9,455.0 368.6,459.2 C371.3,463.4 370.9,467.4 373.2,473.6" stroke-dasharray="25.6 16.2 0 16.2 0 16.2"/>
<path d="M373.2,473.6 C375.5,479.8 379.9,490.3 382.5,496.2 C385.1,502.1 385.7,507.3 388.9,509.1 C392.1,510.9 398.3,509.5 401.8,506.9 C405.3,504.3 407.2,498.1 409.8,493.6" stroke-dasharray="23.6 14.9 0 14.9 0 14.9"/>
<path d="M409.8,493.6 C412.4,489.2 414.7,483.9 417.3,480.2 C419.9,476.5 422.7,470.1 425.3,471.3 C427.9,472.5 430.4,482.2 432.9,487.3 C435.4,492.4 437.4,500.4 440.4,501.6 C443.4,502.8 448.4,497.4 451.1,494.4" stroke-dasharray="26.1 16.5 0 16.5 0 16.5"/>
<path d="M451.1,494.4 C453.8,491.4 454.3,486.8 456.4,483.8 C458.5,480.9 461.7,477.7 463.6,476.7 C465.5,475.7 466.9,476.0 468.0,477.6 C469.1,479.2 467.7,484.2 470.0,486.4 C472.3,488.6 477.5,489.6 481.8,490.9 C486.1,492.2 492.7,492.2 496.0,494.4 C499.3,496.6 499.9,500.9 501.8,504.2" stroke-dasharray="26.0 16.5 0 16.5 0 16.5"/>
<path d="M501.8,504.2 C503.7,507.5 505.5,510.4 507.1,514.0 C508.7,517.6 509.5,521.0 511.6,525.6 C513.7,530.2 516.4,539.8 519.6,541.6 C522.9,543.5 528.3,540.1 531.1,536.7 C533.9,533.3 534.4,527.5 536.4,521.1" stroke-dasharray="24.7 15.6 0 15.6 0 15.6"/>
<path d="M536.4,521.1 C538.4,514.7 541.0,500.8 543.3,498.3 C545.6,495.8 548.3,502.4 550.0,506.0 C551.7,509.6 552.7,515.2 553.7,519.7 C554.8,524.2 554.5,527.5 556.3,532.7" stroke-dasharray="21.7 13.7 0 13.7 0 13.7"/>
<path d="M556.3,532.7 C558.0,537.9 562.2,548.7 564.2,551.0 C566.2,553.3 567.0,549.8 568.5,546.7 C570.0,543.7 572.0,537.4 572.9,532.7 C573.8,528.1 573.0,523.2 573.7,518.8 C574.4,514.3 575.5,512.0 577.0,506.0" stroke-dasharray="24.0 15.2 0 15.2 0 15.2"/>
<path d="M577.0,506.0 C578.5,500.0 579.9,487.7 582.5,483.0 C585.1,478.3 590.3,476.3 592.9,477.8 C595.5,479.3 596.6,487.3 598.1,491.8 C599.6,496.3 600.9,500.3 601.6,504.8" stroke-dasharray="22.4 14.2 0 14.2 0 14.2"/>
<path d="M601.6,504.8 C602.3,509.3 601.9,514.3 602.5,518.8 C603.1,523.3 604.0,528.1 605.0,532.0 C606.0,535.9 607.6,538.3 608.6,542.3 C609.6,546.3 609.6,552.7 611.2,556.2" stroke-dasharray="18.1 11.5 0 11.5 0 11.5"/>
<path d="M611.2,556.2 C612.8,559.7 616.2,566.0 618.2,563.2 C620.2,560.5 622.3,545.7 623.4,539.7 C624.5,533.7 624.6,531.0 625.0,527.0 C625.4,523.0 625.5,518.7 626.0,516.0 C626.5,513.3 626.2,511.3 628.0,511.0" stroke-dasharray="22.5 14.2 0 14.2 0 14.2"/>
<path d="M628.0,511.0 C629.8,510.7 635.0,510.5 636.5,514.0 C638.0,517.5 636.7,526.1 637.0,532.0 C637.3,537.9 637.8,543.9 638.2,549.2 C638.6,554.5 638.7,559.2 639.2,563.8 C639.7,568.3 640.4,570.3 641.0,576.5" stroke-dasharray="25.0 15.8 0 15.8 0 15.8"/>
<path d="M641.0,576.5 C641.6,582.7 642.3,594.8 642.8,601.0 C643.2,607.2 643.4,609.3 643.7,613.9 C644.0,618.5 644.3,624.1 644.6,628.5 C644.9,632.9 645.0,634.2 645.5,640.3" stroke-dasharray="22.1 14.0 0 14.0 0 14.0"/>
<path d="M645.5,640.3 C646.0,646.4 647.1,658.7 647.7,664.9 C648.3,671.1 648.5,673.0 649.2,677.6 C649.9,682.2 650.9,690.0 651.9,692.2 C652.9,694.4 653.9,692.7 655.0,691.0" stroke-dasharray="19.7 12.5 0 12.5 0 12.5"/>
<path d="M655.0,691.0 C656.1,689.3 657.3,687.6 658.3,682.2 C659.3,676.8 660.4,664.7 661.0,658.5 C661.6,652.3 661.6,649.5 661.9,644.8 C662.2,640.1 662.6,634.7 662.8,630.3 C662.9,625.9 662.0,624.6 662.8,618.4" stroke-dasharray="25.4 16.1 0 16.1 0 16.1"/>
<path d="M662.8,618.4 C663.6,612.2 666.5,599.3 667.4,592.9 C668.3,586.5 667.8,584.8 668.3,580.2 C668.8,575.7 669.5,570.2 670.1,565.6 C670.7,561.0 670.9,558.1 672.0,552.9" stroke-dasharray="22.8 14.5 0 14.5 0 14.5"/>
<path d="M672.0,552.9 C673.1,547.7 675.4,538.8 676.5,534.6 C677.6,530.4 676.7,530.2 678.7,527.5 C680.7,524.8 684.5,521.8 688.4,518.2 C692.3,514.6 697.7,509.8 702.0,505.8 C706.3,501.8 711.3,495.8 714.4,494.1" stroke-dasharray="26.0 16.4 0 16.4 0 16.4"/>
<path d="M714.4,494.1 C717.5,492.4 718.2,492.3 720.7,495.7 C723.2,499.1 726.7,509.2 729.2,514.3 C731.7,519.3 733.2,525.4 735.8,526.0 C738.4,526.6 742.5,521.8 744.8,518.2 C747.1,514.6 747.6,507.9 749.4,504.2" stroke-dasharray="23.8 15.1 0 15.1 0 15.1"/>
<path d="M749.4,504.2 C751.2,500.4 753.4,494.7 755.6,495.7 C757.8,496.7 760.8,505.7 762.6,510.4 C764.4,515.1 764.9,520.4 766.5,523.7 C768.1,527.0 769.9,529.4 772.0,530.0 C774.1,530.6 776.7,532.0 779.0,527.5" stroke-dasharray="20.2 12.8 0 12.8 0 12.8"/>
<path d="M779.0,527.5 C781.3,523.0 784.2,508.8 786.0,502.7 C787.8,496.6 787.4,494.0 789.5,490.6 C791.6,487.2 795.6,481.3 798.4,482.4 C801.2,483.5 803.4,490.9 806.1,497.2" stroke-dasharray="23.5 14.9 0 14.9 0 14.9"/>
<path d="M806.1,497.2 C808.8,503.4 812.4,514.1 814.8,519.9 C817.2,525.7 817.4,529.5 820.5,532.0 C823.6,534.5 830.0,536.6 833.6,534.7 C837.2,532.8 839.4,523.6 842.3,520.7" stroke-dasharray="23.6 15.0 0 15.0 0 15.0"/>
<path d="M842.3,520.7 C845.2,517.8 847.7,519.5 851.0,517.3 C854.3,515.1 859.3,511.6 862.3,507.7 C865.3,503.8 866.0,497.5 868.8,493.7 C871.6,489.9 876.5,484.1 878.9,485.0 C881.3,485.9 881.6,492.9 883.2,499.0" stroke-dasharray="23.7 15.0 0 15.0 0 15.0"/>
<path d="M883.2,499.0 C884.8,505.1 886.8,515.6 888.4,521.6 C890.0,527.6 890.9,533.3 892.8,534.7 C894.7,536.1 898.1,533.1 899.8,529.9 C901.5,526.7 901.8,521.7 903.2,515.5" stroke-dasharray="21.1 13.4 0 13.4 0 13.4"/>
<path d="M903.2,515.5 C904.7,509.3 906.5,497.4 908.5,492.9 C910.5,488.4 913.7,486.8 915.4,488.5 C917.1,490.2 918.0,498.2 918.9,502.9 C919.8,507.5 919.8,510.7 920.7,516.4" stroke-dasharray="21.1 13.4 0 13.4 0 13.4"/>
<path d="M920.7,516.4 C921.7,522.1 923.4,531.5 924.6,537.3 C925.8,543.1 926.7,546.1 928.0,551.0 C929.3,555.9 930.4,566.1 932.4,566.9 C934.4,567.7 937.8,561.4 940.3,555.6" stroke-dasharray="22.9 14.5 0 14.5 0 14.5"/>
<path d="M940.3,555.6 C942.8,549.8 944.5,537.8 947.2,532.0 C950.0,526.2 953.2,520.7 956.8,520.7 C960.4,520.7 966.1,528.5 969.0,532.0 C971.9,535.5 971.9,540.8 974.2,541.7" stroke-dasharray="23.5 14.9 0 14.9 0 14.9"/>
<path d="M974.2,541.7 C976.5,542.6 979.5,541.4 982.9,537.3 C986.2,533.2 991.8,522.9 994.3,517.3 C996.8,511.7 996.7,508.4 998.2,503.8 C999.7,499.2 1000.9,494.2 1003.4,489.8 C1005.9,485.4 1010.7,478.1 1013.4,477.2" stroke-dasharray="27.2 17.2 0 17.2 0 17.2"/>
<path d="M1013.4,477.2 C1016.1,476.3 1017.8,480.4 1019.5,484.2 C1021.2,488.0 1022.9,494.9 1023.9,499.8 C1024.9,504.7 1024.8,509.1 1025.6,513.8 C1026.4,518.4 1027.8,523.4 1028.7,527.7 C1029.6,532.1 1029.8,535.7 1030.9,539.9" stroke-dasharray="23.1 14.6 0 14.6 0 14.6"/>
<path d="M1030.9,539.9 C1032.0,544.1 1032.7,552.4 1035.3,553.0 C1037.9,553.6 1043.7,547.1 1046.5,543.4 C1049.3,539.6 1048.8,534.2 1052.0,530.5 C1055.2,526.8 1061.3,524.1 1065.5,521.0 C1069.7,517.9 1071.9,516.8 1077.0,512.0" stroke-dasharray="25.7 16.3 0 16.3 0 16.3"/>
<path d="M1077.0,512.0 C1082.1,507.2 1090.8,493.9 1096.0,492.0 C1101.2,490.1 1104.8,496.8 1108.5,500.5 C1112.2,504.2 1114.4,512.4 1118.0,514.5 C1121.6,516.6 1126.8,513.9 1130.0,513.0" stroke-dasharray="25.3 16.0 0 16.0 0 16.0"/>
<path d="M1130.0,513.0 C1133.2,512.1 1134.2,507.0 1137.0,509.0 C1139.8,511.0 1143.8,520.2 1147.0,525.0 C1150.2,529.8 1153.0,537.7 1156.0,538.0 C1159.0,538.3 1162.7,531.0 1165.0,527.0 C1167.3,523.0 1167.7,518.5 1170.0,514.0" stroke-dasharray="25.0 15.8 0 15.8 0 15.8"/>
<path d="M1170.0,514.0 C1172.3,509.5 1176.2,501.0 1179.0,500.0 C1181.8,499.0 1184.7,504.5 1187.0,508.0 C1189.3,511.5 1191.2,516.5 1193.0,521.0 C1194.8,525.5 1196.0,530.7 1197.5,535.0 C1199.0,539.3 1199.9,543.8 1202.0,547.0" stroke-dasharray="24.4 15.4 0 15.4 0 15.4"/>
<path d="M1202.0,547.0 C1204.1,550.2 1208.0,555.5 1210.0,554.0 C1212.0,552.5 1212.8,543.1 1214.0,538.0 C1215.2,532.9 1216.1,528.4 1217.0,523.5 C1217.9,518.6 1218.2,513.4 1219.6,508.6 C1221.0,503.9 1223.5,493.7 1225.5,495.0" stroke-dasharray="25.3 16.0 0 16.0 0 16.0"/>
<path d="M1225.5,495.0 C1227.5,496.3 1230.1,510.4 1231.5,516.3 C1232.9,522.2 1233.1,525.9 1233.8,530.6 C1234.5,535.4 1234.9,539.4 1235.6,544.8 C1236.3,550.2 1237.4,556.9 1238.0,563.0" stroke-dasharray="24.0 15.2 0 15.2 0 15.2"/>
<path d="M1238.0,563.0 C1238.6,569.1 1238.5,576.3 1239.2,581.6 C1239.9,586.9 1240.7,592.6 1242.0,594.7 C1243.3,596.8 1245.5,594.6 1247.0,594.0 C1248.5,593.4 1249.2,596.0 1251.0,591.0" stroke-dasharray="15.1 9.5 0 9.5 0 9.5"/>
<path d="M1251.0,591.0 C1252.8,586.0 1256.9,570.3 1258.0,564.0 C1259.1,557.7 1257.3,557.1 1257.5,553.0 C1257.7,548.9 1258.8,544.0 1259.4,539.5 C1260.0,535.0 1259.4,532.1 1261.0,526.0" stroke-dasharray="22.9 14.5 0 14.5 0 14.5"/>
<path d="M1261.0,526.0 C1262.6,519.9 1266.0,504.6 1269.0,503.0 C1272.0,501.4 1276.5,511.7 1279.0,516.3 C1281.5,520.9 1282.2,526.2 1283.7,530.6 C1285.2,535.0 1286.1,538.7 1288.0,542.4" stroke-dasharray="24.0 15.2 0 15.2 0 15.2"/>
<path d="M1288.0,542.4 C1289.9,546.1 1292.5,553.6 1295.0,553.0 C1297.5,552.4 1301.2,543.5 1303.0,539.0 C1304.8,534.5 1304.5,530.6 1305.7,525.8 C1306.9,521.0 1308.6,514.3 1310.0,510.0 C1311.4,505.7 1312.8,502.5 1314.0,500.0" stroke-dasharray="24.2 15.3 0 15.3 0 15.3"/>
<path d="M1314.0,500.0 C1315.2,497.5 1314.8,492.7 1317.0,495.0 C1319.2,497.3 1324.5,508.7 1327.0,514.0 C1329.5,519.3 1330.2,522.5 1332.0,527.0 C1333.8,531.5 1335.1,537.0 1337.8,541.0 C1340.5,545.0 1345.3,551.8 1348.0,551.0" stroke-dasharray="25.1 15.9 0 15.9 0 15.9"/>
<path d="M1348.0,551.0 C1350.7,550.2 1351.0,539.9 1354.0,536.5 C1357.0,533.1 1362.6,534.0 1366.0,530.6 C1369.4,527.2 1371.0,519.2 1374.6,516.3 C1378.2,513.4 1384.3,511.2 1387.8,513.3 C1391.3,515.4 1392.4,524.1 1395.6,528.9" stroke-dasharray="27.0 17.1 0 17.1 0 17.1"/>
<path d="M1395.6,528.9 C1398.8,533.7 1403.8,540.7 1406.7,542.2 C1409.7,543.7 1410.8,540.9 1413.3,537.8 C1415.8,534.7 1418.8,528.5 1421.6,523.8 C1424.4,519.1 1427.2,510.9 1430.1,509.8 C1432.9,508.8 1436.1,512.3 1438.7,517.5" stroke-dasharray="24.7 15.6 0 15.6 0 15.6"/>
<path d="M1438.7,517.5 C1441.3,522.7 1443.9,534.8 1445.7,540.9 C1447.5,547.0 1447.7,549.8 1449.5,554.1 C1451.3,558.4 1453.9,566.6 1456.5,566.5 C1459.1,566.4 1461.3,558.7 1465.1,553.3" stroke-dasharray="23.8 15.0 0 15.0 0 15.0"/>
<path d="M1465.1,553.3 C1468.9,547.9 1474.8,538.8 1479.1,533.9 C1483.4,529.0 1487.8,527.8 1490.8,523.8 C1493.8,519.8 1494.3,513.2 1497.0,509.8 C1499.7,506.4 1504.4,500.4 1507.1,503.5" stroke-dasharray="23.5 14.9 0 14.9 0 14.9"/>
<path d="M1507.1,503.5 C1509.8,506.6 1512.0,522.2 1513.3,528.4 C1514.6,534.6 1514.0,536.5 1514.9,540.9 C1515.8,545.3 1517.2,551.0 1518.8,554.9 C1520.3,558.8 1522.3,566.8 1524.2,564.2" stroke-dasharray="22.4 14.2 0 14.2 0 14.2"/>
<path d="M1524.2,564.2 C1526.1,561.6 1529.0,545.5 1530.4,539.3 C1531.8,533.1 1532.0,531.3 1532.8,526.9 C1533.6,522.5 1534.2,517.8 1535.1,512.9 C1536.0,508.0 1537.0,501.3 1538.2,497.3" stroke-dasharray="23.6 14.9 0 14.9 0 14.9"/>
<path d="M1538.2,497.3 C1539.4,493.3 1540.5,487.8 1542.1,488.8 C1543.6,489.8 1546.2,498.6 1547.5,503.5 C1548.8,508.4 1549.1,513.5 1549.9,518.3 C1550.7,523.1 1551.6,527.8 1552.2,532.3 C1552.8,536.8 1552.4,539.7 1553.7,545.5" stroke-dasharray="23.5 14.9 0 14.9 0 14.9"/>
<path d="M1553.7,545.5 C1555.0,551.3 1557.4,565.5 1560.0,567.3 C1562.6,569.1 1566.7,560.5 1569.3,556.4 C1571.9,552.2 1572.7,545.8 1575.5,542.4 C1578.3,539.0 1583.0,536.7 1586.4,536.2" stroke-dasharray="22.8 14.4 0 14.4 0 14.4"/>
<path d="M1586.4,536.2 C1589.8,535.7 1591.8,539.6 1595.7,539.3 C1599.6,539.0 1606.3,532.8 1609.7,534.6 C1613.1,536.4 1614.3,545.1 1616.0,550.2 C1617.7,555.3 1618.5,560.1 1619.8,565.0 C1621.1,569.9 1622.1,576.7 1623.7,579.8" stroke-dasharray="25.1 15.9 0 15.9 0 15.9"/>
<path d="M1623.7,579.8 C1625.3,582.9 1626.6,585.7 1629.2,583.6 C1631.8,581.5 1636.7,572.2 1639.3,567.3 C1641.9,562.4 1642.0,556.2 1644.7,554.1 C1647.4,552.0 1653.1,552.7 1655.6,554.9 C1658.1,557.1 1658.1,561.2 1659.5,567.3" stroke-dasharray="22.9 14.5 0 14.5 0 14.5"/>
<path d="M1659.5,567.3 C1660.9,573.4 1662.8,585.5 1664.0,591.6 C1665.2,597.7 1665.9,599.6 1667.0,604.0 C1668.1,608.4 1669.7,613.5 1670.5,618.2 C1671.3,622.9 1671.0,625.7 1671.8,632.0" stroke-dasharray="22.8 14.4 0 14.4 0 14.4"/>
<path d="M1671.8,632.0 C1672.6,638.3 1674.6,649.7 1675.6,656.0 C1676.5,662.3 1676.9,665.4 1677.5,670.0 C1678.1,674.6 1678.9,678.9 1679.4,683.4 C1679.9,687.9 1678.9,691.8 1680.6,696.7" stroke-dasharray="22.6 14.3 0 14.3 0 14.3"/>
<path d="M1680.6,696.7 C1682.3,701.6 1687.2,711.3 1689.5,713.0 C1691.8,714.7 1693.1,710.1 1694.6,706.8 C1696.1,703.5 1697.3,697.5 1698.4,693.0 C1699.5,688.5 1700.4,684.3 1701.0,679.6 C1701.6,674.9 1701.2,671.2 1702.0,665.0" stroke-dasharray="24.3 15.4 0 15.4 0 15.4"/>
<path d="M1702.0,665.0 C1702.8,658.8 1705.1,648.3 1706.0,642.3 C1706.9,636.3 1706.8,633.5 1707.2,629.0 C1707.6,624.5 1707.7,619.8 1708.5,615.0 C1709.3,610.2 1710.4,606.2 1712.0,600.0" stroke-dasharray="22.7 14.4 0 14.4 0 14.4"/>
<path d="M1712.0,600.0 C1713.6,593.8 1715.7,581.5 1718.0,578.0 C1720.3,574.5 1723.8,576.5 1726.0,579.0 C1728.2,581.5 1729.7,588.5 1731.0,593.0 C1732.3,597.5 1732.7,599.8 1734.0,606.0" stroke-dasharray="21.0 13.3 0 13.3 0 13.3"/>
<path d="M1734.0,606.0 C1735.3,612.2 1738.1,624.0 1739.0,630.0 C1739.9,636.0 1739.2,637.5 1739.5,642.0 C1739.8,646.5 1740.2,652.0 1741.0,657.0 C1741.8,662.0 1742.3,665.8 1744.0,672.0" stroke-dasharray="23.1 14.6 0 14.6 0 14.6"/>
<path d="M1744.0,672.0 C1745.7,678.2 1748.8,692.8 1751.0,694.0 C1753.2,695.2 1755.3,684.0 1757.0,679.0 C1758.7,674.0 1759.8,668.8 1761.0,664.0 C1762.2,659.2 1762.5,654.3 1764.0,650.0" stroke-dasharray="24.1 15.2 0 15.2 0 15.2"/>
<path d="M1764.0,650.0 C1765.5,645.7 1768.0,639.0 1770.0,638.0 C1772.0,637.0 1774.7,640.5 1776.0,644.0 C1777.3,647.5 1777.2,654.0 1778.0,659.0 C1778.8,664.0 1780.0,669.2 1781.0,674.0 C1782.0,678.8 1782.8,685.0 1784.0,688.0" stroke-dasharray="23.3 14.8 0 14.8 0 14.8"/>
<path d="M1784.0,688.0 C1785.2,691.0 1786.7,691.7 1788.0,692.0 C1789.3,692.3 1791.3,690.3 1792.0,690.0" stroke-dasharray="20.5 16.5 0 16.5 0 16.5"/>
</g>
</g>
<rect x="232.3" y="16.9" width="1558.7" height="1089.8" fill="none" stroke="#000" stroke-width="5.8" stroke-linejoin="round"/>
<text x="211.5" y="1122.8" font-size="45" text-anchor="end">1e+17</text>
<text x="211.5" y="941.2" font-size="45" text-anchor="end">1e+18</text>
<text x="211.5" y="759.5" font-size="45" text-anchor="end">1e+19</text>
<text x="211.5" y="577.9" font-size="45" text-anchor="end">1e+20</text>
<text x="211.5" y="396.3" font-size="45" text-anchor="end">1e+21</text>
<text x="211.5" y="214.6" font-size="45" text-anchor="end">1e+22</text>
<text x="211.5" y="33.0" font-size="45" text-anchor="end">1e+23</text>
<text x="232.3" y="1169.6" font-size="45" text-anchor="middle">0</text>
<text x="448.8" y="1169.6" font-size="45" text-anchor="middle">50</text>
<text x="665.3" y="1169.6" font-size="45" text-anchor="middle">100</text>
<text x="881.8" y="1169.6" font-size="45" text-anchor="middle">150</text>
<text x="1098.2" y="1169.6" font-size="45" text-anchor="middle">200</text>
<text x="1314.7" y="1169.6" font-size="45" text-anchor="middle">250</text>
<text x="1531.2" y="1169.6" font-size="45" text-anchor="middle">300</text>
<text x="1747.7" y="1169.6" font-size="45" text-anchor="middle">350</text>
<text x="1012" y="1251.5" font-size="53" text-anchor="middle">Depth (nm)</text>
<text transform="translate(47.6,561.8) rotate(-90)" font-size="53" text-anchor="middle">Concentration (atoms/cm<tspan font-size="34" dx="-2" dy="-23">3</tspan><tspan dy="23">)</tspan></text>
<rect x="285" y="825" width="423.75" height="240.5" fill="#fff" stroke="#000" stroke-width="2.8"/>
<path d="M303.5,867.7 H496.5" stroke="#000" stroke-width="9.0" stroke-linecap="round" fill="none"/>
<text x="545" y="881.8" font-size="43.5" letter-spacing="-0.75">oxygen</text>
<path d="M303.5,919.7 H496.5" stroke="#000" stroke-width="9.0" stroke-linecap="round" fill="none" stroke-dasharray="0 14.1"/>
<text x="545" y="933.8" font-size="43.5" letter-spacing="-0.75">sulfur</text>
<path d="M303.5,971.6 H496.5" stroke="#000" stroke-width="9.0" stroke-linecap="round" fill="none" stroke-dasharray="16.4 14.2"/>
<text x="545" y="985.6" font-size="43.5" letter-spacing="-0.75">chloride</text>
<path d="M303.5,1023.5 H496.5" stroke="#000" stroke-width="9.0" stroke-linecap="round" fill="none" stroke-dasharray="21.4 14.5 0 14.5 0 14.6"/>
<text x="545" y="1037.5" font-size="43.5" letter-spacing="-0.75">silver</text>
</svg></body></html>
